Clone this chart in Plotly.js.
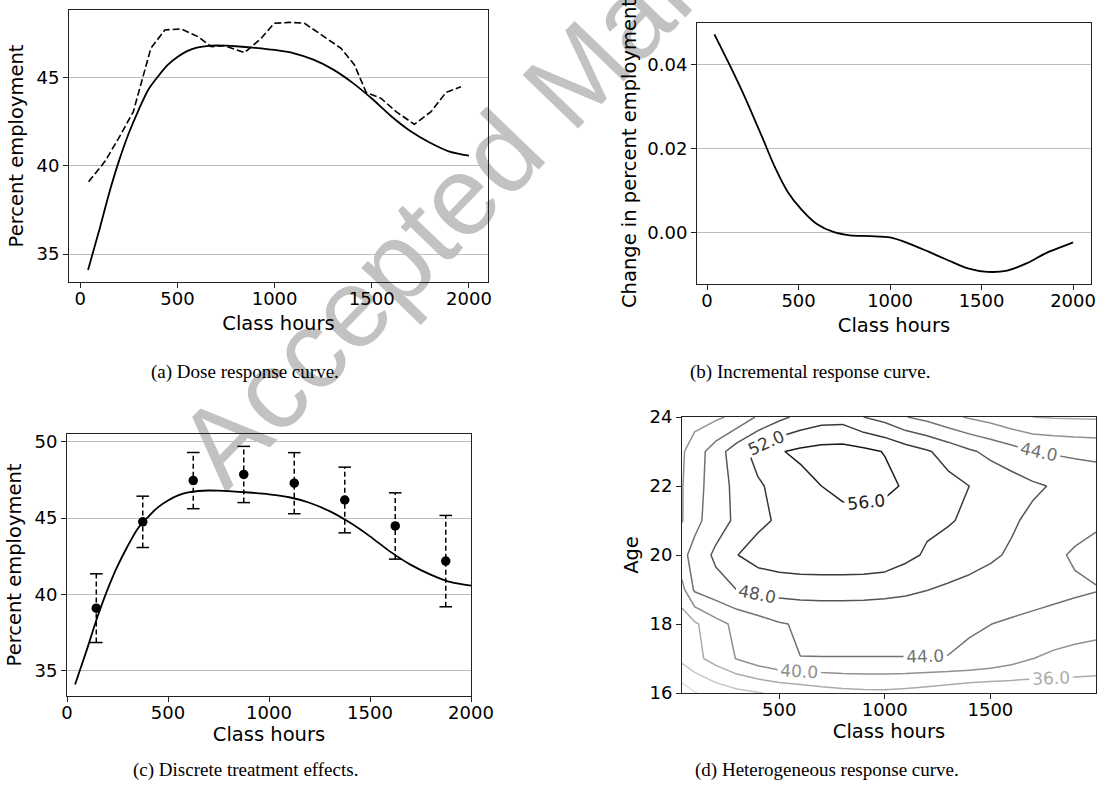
<!DOCTYPE html>
<html><head><meta charset="utf-8">
<script src="https://cdn.plot.ly/plotly-3.0.1.min.js"></script>
<style>
html,body{margin:0;padding:0;background:#fff}
#wrap{position:relative;width:1115px;height:798px;overflow:hidden;background:#fff}
#chart{position:absolute;left:0;top:0;width:1115px;height:798px}
#stamp{position:absolute;left:562px;top:91px;white-space:nowrap;line-height:1.15;
  font-family:'Liberation Sans',Arial,sans-serif;font-size:112px;color:#c2c2c2;
  transform:translate(-50%,-50%) rotate(-46deg);transform-origin:50% 50%}
</style>
</head><body><div id="wrap"><div id="stamp">Accepted Manuscript</div><div id="chart"></div></div>
<script>
// ---------- data ----------
// (a)/(c) smooth dose response curve
const doseHours = [40,100,150,200,250,300,350,400,450,500,550,600,650,700,750,800,900,1000,1100,1200,1300,1400,1500,1600,1700,1800,1900,2000];
const doseEmployment = [34.1,36.45,38.5,40.3,41.85,43.15,44.3,45.05,45.7,46.15,46.48,46.68,46.77,46.8,46.79,46.76,46.67,46.55,46.36,46.0,45.45,44.7,43.8,42.8,41.95,41.3,40.8,40.57];
// (a) dashed raw curve
const rawHours = [43,128,200,273,363,435,520,606,674,742,845,930,998,1077,1154,1257,1342,1411,1471,1548,1625,1719,1805,1882,1959];
const rawEmployment = [39.09,40.26,41.6,43.06,46.64,47.68,47.74,47.30,46.74,46.79,46.40,47.2,48.06,48.11,48.06,47.30,46.64,45.70,44.15,43.81,43.06,42.34,43.06,44.15,44.47];
// (b) incremental response
const incHours = [40,120,210,300,370,440,515,600,690,780,890,1000,1100,1210,1320,1425,1530,1640,1745,1850,2000];
const incChange = [0.0472,0.0402,0.0319,0.0228,0.0156,0.0097,0.0055,0.0020,0.0001,-0.0007,-0.0009,-0.0012,-0.0026,-0.0046,-0.0067,-0.0086,-0.0094,-0.0091,-0.0074,-0.0050,-0.0024];
// (c) discrete treatment effects
const binMid = [145,375,625,875,1125,1375,1625,1875];
const binEst = [39.1,44.75,47.45,47.85,47.28,46.18,44.48,42.18];
const binErr = [2.25,1.68,1.84,1.84,2.0,2.15,2.17,2.99];
// (d) heterogeneous response surface
const gridHours = [40,100,200,300,400,500,600,700,800,900,1000,1100,1200,1300,1400,1500,1600,1700,1800,1900,2000];
const gridAge = [16,17,18,19,20,21,22,23,24];
const zAge16 = [25.9,27.8,29.6,30.9,31.8,32.6,33.4,34.2,34.8,35.1,35.2,34.8,34.2,33.5,32.8,32.6,32.8,33.2,33.6,34.0,34.35];
const zAge17 = [33.0,34.8,37.6,40.2,42.2,43.75,43.97,43.97,43.97,43.97,43.97,43.97,43.97,43.96,43.7,42.9,41.6,40.05,39.1,38.3,37.65];
const zAge18 = [33.6,35.4,38.6,41.0,42.4,43.7,44.4,44.5,44.5,44.5,44.5,44.5,44.45,44.35,44.2,44.03,43.6,43.2,42.8,42.4,42.0];
const zAge19 = [38.8,44.6,46.5,48.05,48.9,49.4,49.6,49.7,49.7,49.6,49.3,48.8,48.1,47.4,46.8,46.2,45.7,45.3,44.9,44.5,44.15];
const zAge20 = [43.0,45.3,48.8,51.9,53.8,54.6,55.0,55.1,55.1,55.0,54.6,53.0,51.5,50.6,49.6,48.6,47.5,46.2,44.6,43.6,43.0];
const zAge21 = [39.8,42.9,46.1,48.8,51.0,52.6,53.4,53.9,54.2,54.1,53.8,53.3,52.8,52.3,51.4,50.2,48.5,47.2,46.1,45.2,44.5];
const zAge22 = [39.8,42.3,46.2,49.0,51.5,53.2,54.6,56.0,57.5,58.0,57.2,55.4,54.2,53.1,52.0,50.9,49.8,48.6,47.7,47.0,46.5];
const zAge23 = [39.5,42.0,46.0,50.3,53.4,55.7,56.8,57.4,57.5,57.0,55.8,54.0,52.4,50.6,48.6,47.0,45.6,44.1,43.6,43.2,42.9];
const zAge24 = [38.0,38.5,39.3,41.0,44.5,47.0,49.0,50.3,50.5,48.0,46.5,44.1,42.8,41.0,39.6,38.5,37.0,36.0,35.7,35.6,35.5];
const contourLevelColors = ['#dedede','#c6c6c6','#ababab','#909090','#727272','#555555','#393939','#1c1c1c'];
const xTicks = [0,500,1000,1500,2000];
const captions = ['(a) Dose response curve.','(b) Incremental response curve.','(c) Discrete treatment effects.','(d) Heterogeneous response curve.'];

// ---------- layout helpers ----------
const W = 1115, H = 798;
const xd = (l, r) => [l / W, r / W];
const yd = (t, b) => [1 - b / H, 1 - t / H];
const FONT = 'DejaVu Sans, Arial, sans-serif';
const tickF = {family: FONT, size: 18, color: '#000'};
function axisBase(extra) {
  return Object.assign({
    showline: true, mirror: true, linecolor: '#222', linewidth: 1,
    ticks: 'outside', ticklen: 5, tickwidth: 1, tickcolor: '#222',
    tickfont: tickF, zeroline: false, showgrid: false, automargin: false,
    fixedrange: true
  }, extra);
}
const xAxis = extra => axisBase(Object.assign({ticklabelstandoff: -5}, extra));

// ---------- traces ----------
const traces = [];
// (a)
traces.push({x: doseHours, y: doseEmployment, xaxis: 'x', yaxis: 'y', mode: 'lines',
  line: {color: '#000', width: 1.8, shape: 'spline', smoothing: 0.8}, hoverinfo: 'skip'});
traces.push({x: rawHours, y: rawEmployment, xaxis: 'x', yaxis: 'y', mode: 'lines',
  line: {color: '#000', width: 1.6, dash: '7px,3px'}, hoverinfo: 'skip'});
// (b)
traces.push({x: incHours, y: incChange, xaxis: 'x2', yaxis: 'y2', mode: 'lines',
  line: {color: '#000', width: 1.8, shape: 'spline', smoothing: 0.8}, hoverinfo: 'skip'});
// (c)
traces.push({x: doseHours, y: doseEmployment, xaxis: 'x3', yaxis: 'y3', mode: 'lines',
  line: {color: '#000', width: 1.8, shape: 'spline', smoothing: 0.8}, hoverinfo: 'skip'});
const ebX = [], ebY = [], capX = [], capY = [];
binMid.forEach((m, i) => {
  ebX.push(m, m, null); ebY.push(binEst[i] - binErr[i], binEst[i] + binErr[i], null);
  capX.push(m, m); capY.push(binEst[i] - binErr[i], binEst[i] + binErr[i]);
});
traces.push({x: ebX, y: ebY, xaxis: 'x3', yaxis: 'y3', mode: 'lines',
  line: {color: '#000', width: 1.5, dash: '5px,3px'}, hoverinfo: 'skip'});
traces.push({x: capX, y: capY, xaxis: 'x3', yaxis: 'y3', mode: 'markers',
  marker: {symbol: 'line-ew', size: 9, color: '#000', line: {color: '#000', width: 1.5}}, hoverinfo: 'skip'});
traces.push({x: binMid, y: binEst, xaxis: 'x3', yaxis: 'y3', mode: 'markers',
  marker: {symbol: 'circle', size: 9.5, color: '#000'}, hoverinfo: 'skip'});
// (d)
const cs = contourLevelColors.map((c, i) => [i / (contourLevelColors.length - 1), c]);
traces.push({type: 'contour', x: gridHours, y: gridAge,
  z: [zAge16, zAge17, zAge18, zAge19, zAge20, zAge21, zAge22, zAge23, zAge24],
  xaxis: 'x4', yaxis: 'y4', autocontour: false,
  contours: {start: 28, end: 56, size: 4, coloring: 'lines', showlabels: true,
    labelfont: {family: FONT, size: 17}, labelformat: '.1f'},
  line: {width: 1.5, smoothing: 0}, colorscale: cs, showscale: false, hoverinfo: 'skip'});

// ---------- layout ----------
const ttl = (t, s) => ({text: t, font: {family: FONT, size: 19.5, color: '#000'}, standoff: s});
const layout = {
  width: W, height: H, margin: {l: 0, r: 0, t: 0, b: 0},
  paper_bgcolor: 'rgba(0,0,0,0)', plot_bgcolor: 'rgba(0,0,0,0)', showlegend: false,
  xaxis: xAxis({domain: xd(69, 488), range: [-58, 2098], tickvals: xTicks, anchor: 'y', title: ttl('Class hours', 8)}),
  yaxis: axisBase({domain: yd(10, 282), range: [33.42, 48.81], tickvals: [35, 40, 45], anchor: 'x',
    showgrid: true, gridcolor: '#bdbdbd', gridwidth: 1, title: ttl('Percent employment', 7)}),
  xaxis2: xAxis({domain: xd(697, 1091), range: [-55, 2098], tickvals: xTicks, anchor: 'y2', title: ttl('Class hours', 8)}),
  yaxis2: axisBase({domain: yd(23, 284), range: [-0.0123, 0.0499], tickvals: [0, 0.02, 0.04], tickformat: '.2f', anchor: 'x2',
    showgrid: true, gridcolor: '#bdbdbd', gridwidth: 1, title: ttl('Change in percent employment', 5)}),
  xaxis3: xAxis({domain: xd(67, 471), range: [0, 2000], tickvals: xTicks, anchor: 'y3', title: ttl('Class hours', 0)}),
  yaxis3: axisBase({domain: yd(434, 696), range: [33.35, 50.5], tickvals: [35, 40, 45, 50], anchor: 'x3',
    showgrid: true, gridcolor: '#bdbdbd', gridwidth: 1, title: ttl('Percent employment', 7)}),
  xaxis4: xAxis({domain: xd(682, 1096), range: [40, 2000], tickvals: [500, 1000, 1500], anchor: 'y4', title: ttl('Class hours', 0)}),
  yaxis4: axisBase({domain: yd(417, 693), range: [16, 24], tickvals: [16, 18, 20, 22, 24], anchor: 'x4', title: ttl('Age', 5)}),
  annotations: [
    {text: captions[0], x: 245 / W, y: 1 - 372 / H},
    {text: captions[1], x: 810 / W, y: 1 - 372 / H},
    {text: captions[2], x: 245 / W, y: 1 - 770 / H},
    {text: captions[3], x: 827 / W, y: 1 - 770 / H}
  ].map(a => Object.assign(a, {xref: 'paper', yref: 'paper', showarrow: false, xanchor: 'center', yanchor: 'middle',
    font: {family: 'Liberation Serif, Times New Roman, serif', size: 19, color: '#000'}}))
};

Plotly.newPlot('chart', traces, layout, {displayModeBar: false, staticPlot: true});
</script>
</body></html>
